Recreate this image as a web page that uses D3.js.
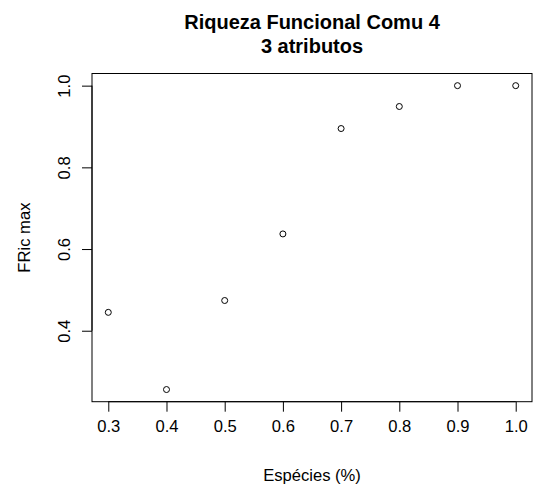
<!DOCTYPE html>
<html><head><meta charset="utf-8">
<script src="https://cdn.jsdelivr.net/npm/d3@7"></script>
<style>body{margin:0;background:#fff}svg{display:block}text{font-family:"Liberation Sans",Arial,sans-serif;fill:#000}</style>
</head><body><svg id="c" width="533" height="488"></svg>
<script>
const especies = [0.3, 0.4, 0.5, 0.6, 0.7, 0.8, 0.9, 1.0];
const fricMax = [0.445, 0.256, 0.474, 0.637, 0.895, 0.949, 1.0, 1.0];
const xTicks = [0.3, 0.4, 0.5, 0.6, 0.7, 0.8, 0.9, 1.0];
const yTicks = [0.4, 0.6, 0.8, 1.0];
const titleLines = ["Riqueza Funcional Comu 4", "3 atributos"];
const xLabel = "Espécies (%)";
const yLabel = "FRic max";

const FS = 16.6;
const svg = d3.select("#c");
const L = 92, R = 532, T = 73.5, B = 401.7;
const xr = d3.extent(especies), yr = d3.extent(fricMax);
const xp = (xr[1]-xr[0])*0.04, yp = (yr[1]-yr[0])*0.04;
const x = d3.scaleLinear().domain([xr[0]-xp, xr[1]+xp]).range([L, R]);
const y = d3.scaleLinear().domain([yr[0]-yp, yr[1]+yp]).range([B, T]);

svg.append("rect").attr("x", L).attr("y", T).attr("width", R-L).attr("height", B-T)
  .attr("fill", "none").attr("stroke", "#000").attr("stroke-width", 1);

// x axis
const xa = svg.append("g").attr("transform", `translate(0,${B})`)
  .call(d3.axisBottom(x).tickValues(xTicks).tickFormat(d3.format(".1f")).tickSize(10).tickPadding(9));
xa.select(".domain").attr("d", `M${x(xTicks[0])},0H${x(xTicks[xTicks.length-1])}`);
xa.selectAll("text").attr("font-size", FS).attr("font-family", "Liberation Sans, Arial, sans-serif").attr("fill", "#000");

// y axis
const ya = svg.append("g").attr("transform", `translate(${L},0)`)
  .call(d3.axisLeft(y).tickValues(yTicks).tickFormat(d3.format(".1f")).tickSize(10).tickPadding(0));
ya.select(".domain").attr("d", `M0,${y(yTicks[0])}V${y(yTicks[yTicks.length-1])}`);
ya.selectAll("text").attr("font-size", FS).attr("font-family", "Liberation Sans, Arial, sans-serif").attr("fill", "#000")
  .attr("x", null).attr("dy", null)
  .attr("text-anchor", "middle")
  .attr("transform", "translate(-22,0) rotate(-90)");

svg.selectAll("circle.pt").data(especies).join("circle").attr("class", "pt")
  .attr("cx", d => x(d)).attr("cy", (d, i) => y(fricMax[i])).attr("r", 3)
  .attr("fill", "none").attr("stroke", "#000").attr("stroke-width", 1);

svg.append("text").attr("x", (L+R)/2).attr("y", 29).attr("text-anchor", "middle")
  .attr("font-size", 20).attr("font-weight", "bold").text(titleLines[0]);
svg.append("text").attr("x", (L+R)/2).attr("y", 53).attr("text-anchor", "middle")
  .attr("font-size", 20).attr("font-weight", "bold").text(titleLines[1]);

svg.append("text").attr("x", (L+R)/2).attr("y", 481).attr("text-anchor", "middle")
  .attr("font-size", FS).text(xLabel);
svg.append("text").attr("transform", `translate(30,${(T+B)/2}) rotate(-90)`).attr("text-anchor", "middle")
  .attr("font-size", FS).text(yLabel);
</script></body></html>
